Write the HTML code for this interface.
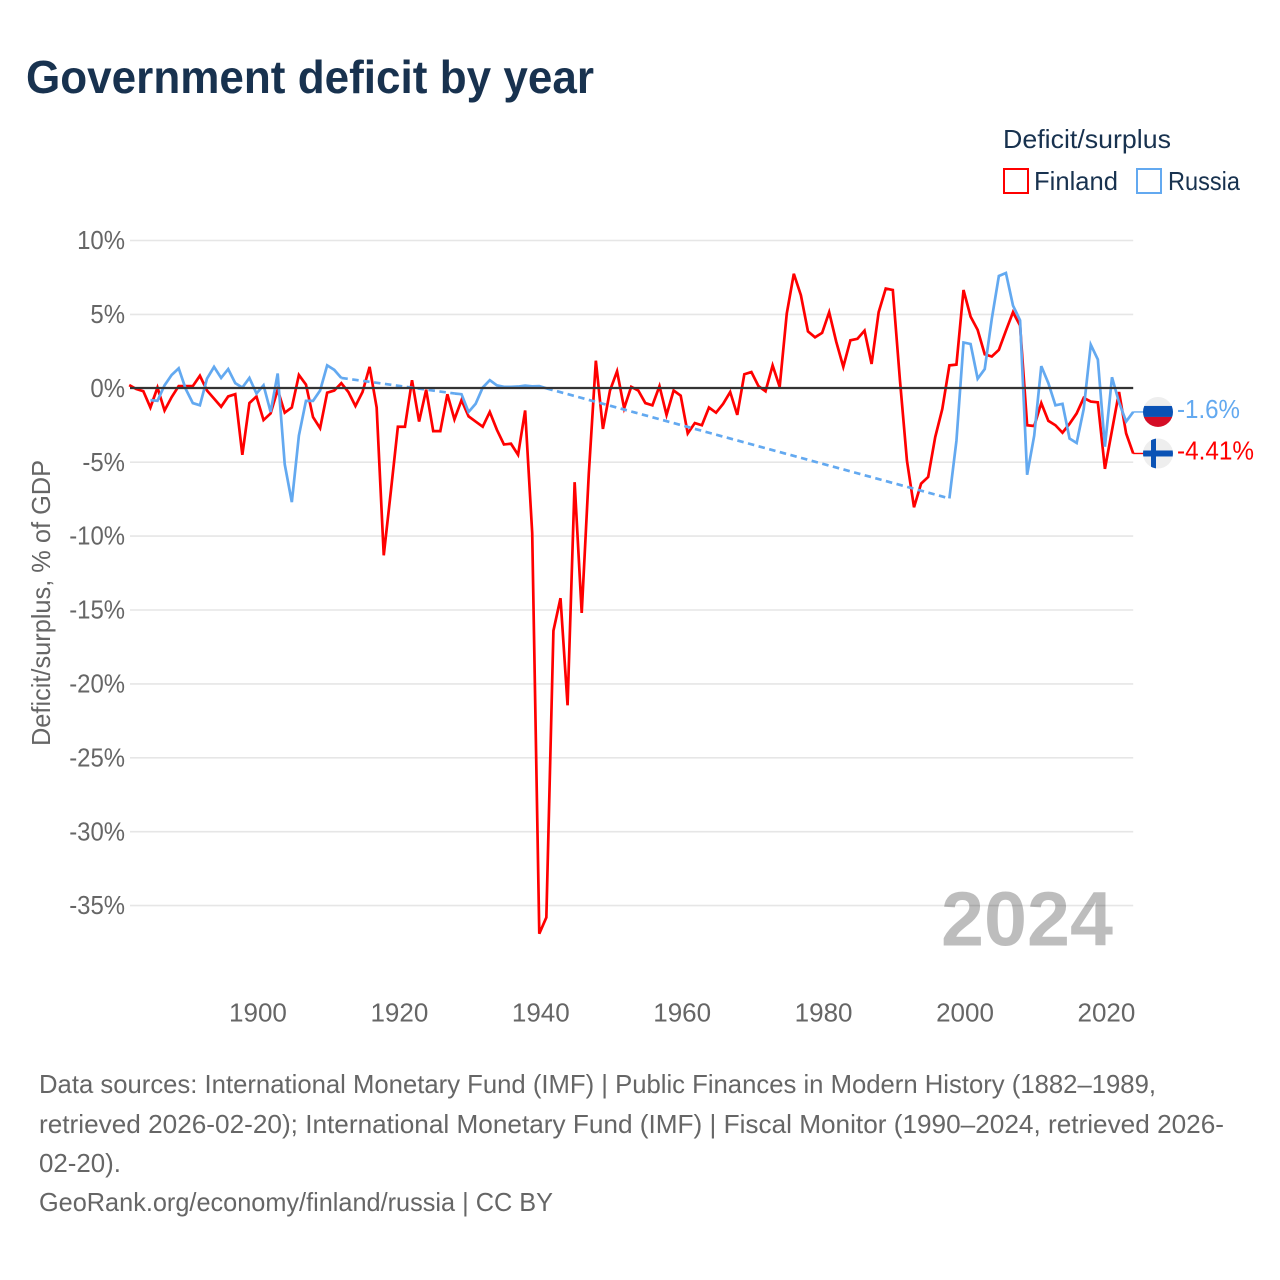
<!DOCTYPE html>
<html lang="en">
<head>
<meta charset="utf-8">
<title>Government deficit by year</title>
<style>
html,body{margin:0;padding:0;background:#fff;}
svg{display:block;font-family:"Liberation Sans",sans-serif;}
</style>
</head>
<body>
<svg id="chart" width="1280" height="1280" viewBox="0 0 1280 1280" xmlns="http://www.w3.org/2000/svg">
  <defs>
    <clipPath id="flag-clip"><circle cx="0" cy="0" r="15"></circle></clipPath>
  </defs>
  <rect x="0" y="0" width="1280" height="1280" fill="#ffffff"></rect>
  <text x="26" y="93" font-size="46" font-weight="700" fill="#18324f" textLength="568" lengthAdjust="spacingAndGlyphs">Government deficit by year</text>

  <g>
    <text x="1003" y="148" font-size="26" fill="#18324f" textLength="168" lengthAdjust="spacingAndGlyphs">Deficit/surplus</text>
    <g>
      <rect x="1004" y="169" width="24" height="24" fill="#fff" stroke="#ff0000" stroke-width="2"></rect>
      <text x="1034" y="190" font-size="26" fill="#18324f" textLength="84" lengthAdjust="spacingAndGlyphs">Finland</text>
    </g>
    <g>
      <rect x="1137" y="169" width="24" height="24" fill="#fff" stroke="#63a9f0" stroke-width="2"></rect>
      <text x="1168" y="190" font-size="26" fill="#18324f" textLength="72" lengthAdjust="spacingAndGlyphs">Russia</text>
    </g>
  </g>

  <text transform="translate(50,603) rotate(-90)" text-anchor="middle" font-size="26" fill="#666666" textLength="286" lengthAdjust="spacingAndGlyphs">Deficit/surplus, % of GDP</text>

  <g id="grid-layer"></g>
  <g id="y-tick-layer"></g>
  <g id="x-tick-layer"></g>

  <text x="941" y="945.5" font-size="77" font-weight="700" fill="#000000" fill-opacity="0.26" textLength="172" lengthAdjust="spacingAndGlyphs">2024</text>

  <g id="series-layer"></g>
  <line id="zero-line" stroke="#333333" stroke-width="2.2"></line>

  <g id="russia-flag">
    <g clip-path="url(#flag-clip)">
      <rect x="-15" y="-15" width="30" height="30" fill="#eeeeee"></rect>
      <rect x="-15" y="-6" width="30" height="11" fill="#0a52b5"></rect>
      <rect x="-15" y="5" width="30" height="10" fill="#d40d26"></rect>
    </g>
  </g>
  <g id="finland-flag">
    <g clip-path="url(#flag-clip)">
      <rect x="-15" y="-15" width="30" height="30" fill="#eeeeee"></rect>
      <rect x="-15" y="-3" width="30" height="6" fill="#0a52b5"></rect>
      <rect x="-7" y="-15" width="5" height="30" fill="#0a52b5"></rect>
    </g>
  </g>
  <text id="russia-end-label" x="1177" font-size="26" fill="#63a9f0" textLength="63" lengthAdjust="spacingAndGlyphs">-1.6%</text>
  <text id="finland-end-label" x="1177" font-size="26" fill="#ff0000" textLength="77" lengthAdjust="spacingAndGlyphs">-4.41%</text>

  <g font-size="26" fill="#666666">
    <text x="39" y="1093" textLength="1117" lengthAdjust="spacingAndGlyphs">Data sources: International Monetary Fund (IMF) | Public Finances in Modern History (1882–1989,</text>
    <text x="39" y="1133" textLength="1185" lengthAdjust="spacingAndGlyphs">retrieved 2026-02-20); International Monetary Fund (IMF) | Fiscal Monitor (1990–2024, retrieved 2026-</text>
    <text x="39" y="1172" textLength="82" lengthAdjust="spacingAndGlyphs">02-20).</text>
    <text x="39" y="1211" textLength="514" lengthAdjust="spacingAndGlyphs">GeoRank.org/economy/finland/russia | CC BY</text>
  </g>
</svg>
<script>
const years = [
  1882,1883,1884,1885,1886,1887,1888,1889,
  1890,1891,1892,1893,1894,1895,1896,1897,1898,1899,
  1900,1901,1902,1903,1904,1905,1906,1907,1908,1909,
  1910,1911,1912,1913,1914,1915,1916,1917,1918,1919,
  1920,1921,1922,1923,1924,1925,1926,1927,1928,1929,
  1930,1931,1932,1933,1934,1935,1936,1937,1938,1939,
  1940,1941,1942,1943,1944,1945,1946,1947,1948,1949,
  1950,1951,1952,1953,1954,1955,1956,1957,1958,1959,
  1960,1961,1962,1963,1964,1965,1966,1967,1968,1969,
  1970,1971,1972,1973,1974,1975,1976,1977,1978,1979,
  1980,1981,1982,1983,1984,1985,1986,1987,1988,1989,
  1990,1991,1992,1993,1994,1995,1996,1997,1998,1999,
  2000,2001,2002,2003,2004,2005,2006,2007,2008,2009,
  2010,2011,2012,2013,2014,2015,2016,2017,2018,2019,
  2020,2021,2022,2023,2024
];
const finlandValues = [
  0.22,-0.05,-0.2,-1.3,0.05,-1.5,-0.6,0.15,
  0.15,0.15,0.85,-0.15,-0.7,-1.25,-0.55,-0.4,-4.5,-1.0,
  -0.55,-2.15,-1.7,-0.1,-1.65,-1.3,0.9,0.25,-1.95,-2.7,
  -0.3,-0.15,0.35,-0.25,-1.2,-0.25,1.45,-1.3,-11.3,-7.0,
  -2.6,-2.6,0.55,-2.25,-0.1,-2.9,-2.9,-0.4,-2.1,-0.8,
  -1.9,-2.25,-2.6,-1.6,-2.8,-3.8,-3.75,-4.5,-1.5,-9.8,
  -36.9,-35.8,-16.4,-14.2,-21.45,-6.35,-15.2,-5.8,1.87,-2.75,
  -0.15,1.15,-1.35,0.1,-0.15,-1.0,-1.15,0.15,-1.8,-0.15,
  -0.5,-3.05,-2.35,-2.5,-1.3,-1.65,-1.05,-0.25,-1.8,0.95,
  1.1,0.15,-0.2,1.55,0.1,5.05,7.75,6.3,3.85,3.45,
  3.75,5.15,3.15,1.45,3.25,3.35,3.9,1.65,5.15,6.75,
  6.65,0.6,-4.9,-8.05,-6.45,-6.0,-3.3,-1.4,1.55,1.6,
  6.65,4.85,3.95,2.3,2.15,2.6,3.9,5.15,4.25,-2.5,
  -2.55,-1.0,-2.2,-2.5,-3.0,-2.4,-1.7,-0.65,-0.9,-0.95,
  -5.45,-2.85,-0.25,-3.05,-4.41
];
const russiaValues = [
  null,null,null,-0.8,-0.85,0.2,0.9,1.35,
  -0.05,-1.0,-1.15,0.65,1.45,0.7,1.3,0.35,0.05,0.7,
  -0.35,0.2,-1.6,1.0,-5.15,-7.7,-3.2,-0.85,-0.85,-0.15,
  1.55,1.25,0.7,null,null,null,null,null,null,null,
  null,null,null,null,null,null,null,null,-0.35,-0.4,
  -1.6,-1.05,0.05,0.55,0.2,0.1,0.1,0.12,0.18,0.13,
  0.15,0,null,null,null,null,null,null,null,null,
  null,null,null,null,null,null,null,null,null,null,
  null,null,null,null,null,null,null,null,null,null,
  null,null,null,null,null,null,null,null,null,null,
  null,null,null,null,null,null,null,null,null,null,
  null,null,null,null,null,null,null,null,-7.45,-3.55,
  3.1,3.0,0.65,1.3,4.7,7.6,7.8,5.6,4.6,-5.85,
  -3.2,1.5,0.35,-1.15,-1.05,-3.4,-3.7,-1.4,2.95,1.95,
  -3.95,0.75,-0.95,-2.25,-1.6
];
const yTickValues = [10,5,0,-5,-10,-15,-20,-25,-30,-35];
const yTickLabels = ["10%","5%","0%","-5%","-10%","-15%","-20%","-25%","-30%","-35%"];
const xTickYears = [1900,1920,1940,1960,1980,2000,2020];
const xTickLabels = ["1900","1920","1940","1960","1980","2000","2020"];

const SVGNS = "http://www.w3.org/2000/svg";
const plotLeft = 129.2;
const plotRight = 1133.2;
const gridLeft = 130;
const xDomainStart = years[0];
const xDomainEnd = years[years.length - 1];
function xScale(year) {
  return plotLeft + (year - xDomainStart) * (plotRight - plotLeft) / (xDomainEnd - xDomainStart);
}
function yScale(value) {
  return 388.3 - value * 14.78;
}
function make(tag, attrs) {
  const el = document.createElementNS(SVGNS, tag);
  for (const k in attrs) el.setAttribute(k, attrs[k]);
  return el;
}

const gridLayer = document.getElementById("grid-layer");
const yTickLayer = document.getElementById("y-tick-layer");
const xTickLayer = document.getElementById("x-tick-layer");
const seriesLayer = document.getElementById("series-layer");

yTickValues.forEach(function (v, i) {
  const y = yScale(v);
  const line = make("line", {x1: gridLeft, x2: plotRight, y1: y, y2: y, stroke: "#e6e6e6", "stroke-width": 1.6});
  
  
  gridLayer.appendChild(line);

  const label = make("text", {x: 125, y: y + 8.6, "text-anchor": "end", "font-size": 26, fill: "#666666"});
  
  
  label.textContent = yTickLabels[i];
  yTickLayer.appendChild(label);
  const w = label.getComputedTextLength();
  label.setAttribute("textLength", (w * 0.92).toFixed(1));
  label.setAttribute("lengthAdjust", "spacingAndGlyphs");
});

xTickYears.forEach(function (yr, i) {
  const label = make("text", {x: xScale(yr) + 1.5, y: 1021.5, "text-anchor": "middle", "font-size": 26, fill: "#666666"});
  
  
  label.textContent = xTickLabels[i];
  xTickLayer.appendChild(label);
});

function drawSeries(values, color, seriesName) {
  let solid = "";
  let dashed = "";
  let last = null;
  values.forEach(function (v, i) {
    if (v === null) return;
    const px = xScale(years[i]).toFixed(2);
    const py = yScale(v).toFixed(2);
    if (last === null) {
      solid += "M" + px + " " + py;
    } else if (last.i === i - 1) {
      solid += "L" + px + " " + py;
    } else {
      dashed += "M" + last.px + " " + last.py + "L" + px + " " + py;
      solid += "M" + px + " " + py;
    }
    last = {i: i, px: px, py: py};
  });
  const common = {fill: "none", stroke: color, "stroke-width": 2.7, "stroke-linejoin": "miter", "stroke-miterlimit": 4};
  if (dashed) {
    const d = make("path", Object.assign({d: dashed, "stroke-dasharray": "6.5 4.5"}, common));
    
    
    seriesLayer.appendChild(d);
  }
  const s = make("path", Object.assign({d: solid}, common));
  
  
  s.setAttribute('aria-label', seriesName);
  seriesLayer.appendChild(s);
  const endValue = values[values.length - 1];
  const c = make("line", {x1: plotRight, x2: 1143, y1: yScale(endValue), y2: yScale(endValue), stroke: color, "stroke-width": 1.4});
  
  
  seriesLayer.appendChild(c);
}
drawSeries(finlandValues, "#ff0000", "Finland");
drawSeries(russiaValues, "#63a9f0", "Russia");

const zero = document.getElementById("zero-line");
zero.setAttribute("x1", gridLeft);
zero.setAttribute("x2", plotRight);
zero.setAttribute("y1", yScale(0) - 0.3);
zero.setAttribute("y2", yScale(0) - 0.3);

const russiaEnd = russiaValues[russiaValues.length - 1];
const finlandEnd = finlandValues[finlandValues.length - 1];
document.getElementById("russia-flag").setAttribute("transform", "translate(1158," + yScale(russiaEnd) + ")");
document.getElementById("finland-flag").setAttribute("transform", "translate(1158," + yScale(finlandEnd) + ")");
document.getElementById("russia-end-label").setAttribute("y", yScale(russiaEnd) + 6);
document.getElementById("finland-end-label").setAttribute("y", yScale(finlandEnd) + 6);
</script>
</body>
</html>
